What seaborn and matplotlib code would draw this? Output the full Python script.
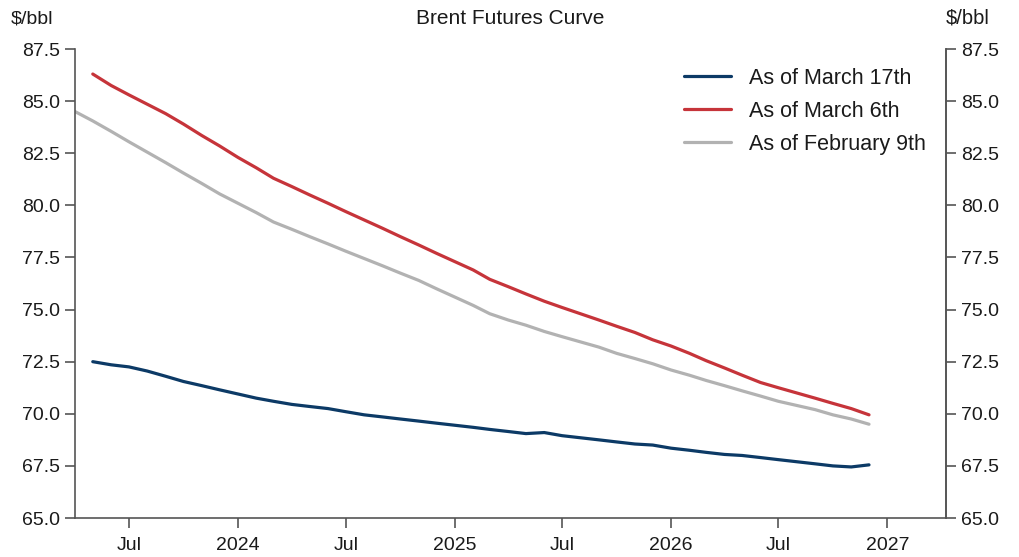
import matplotlib
matplotlib.use("Agg")
import matplotlib.pyplot as plt
import matplotlib.dates as mdates
import numpy as np
import pandas as pd
import seaborn as sns

# Brent futures settlement curves, monthly contracts ($/bbl)
start_mar17 = "2023-05-01"
mar17 = [72.5, 72.35, 72.25, 72.05, 71.8, 71.55, 71.35, 71.15, 70.95, 70.75,
         70.6, 70.45, 70.35, 70.25, 70.1, 69.95, 69.85, 69.75, 69.65, 69.55,
         69.45, 69.35, 69.25, 69.15, 69.05, 69.1, 68.95, 68.85, 68.75, 68.65,
         68.55, 68.5, 68.35, 68.25, 68.15, 68.05, 68.0, 67.9, 67.8, 67.7,
         67.6, 67.5, 67.45, 67.55]

start_mar6 = "2023-05-01"
mar6 = [86.3, 85.75, 85.3, 84.85, 84.4, 83.9, 83.35, 82.85, 82.3, 81.8,
        81.3, 80.9, 80.5, 80.1, 79.7, 79.3, 78.9, 78.5, 78.1, 77.7,
        77.3, 76.9, 76.45, 76.1, 75.75, 75.4, 75.1, 74.8, 74.5, 74.2,
        73.9, 73.55, 73.25, 72.9, 72.55, 72.2, 71.85, 71.5, 71.25, 71.0,
        70.75, 70.5, 70.25, 69.95]

start_feb9 = "2023-04-01"
feb9 = [84.5, 84.05, 83.55, 83.05, 82.55, 82.05, 81.55, 81.05, 80.55, 80.1,
        79.65, 79.2, 78.85, 78.5, 78.15, 77.8, 77.45, 77.1, 76.75, 76.4,
        76.0, 75.6, 75.2, 74.8, 74.5, 74.25, 73.95, 73.7, 73.45, 73.2,
        72.9, 72.65, 72.4, 72.1, 71.85, 71.6, 71.35, 71.1, 70.85, 70.6,
        70.4, 70.2, 69.95, 69.75, 69.5]

series_names = ["As of March 17th", "As of March 6th", "As of February 9th"]
series_colors = ["#0c3a66", "#c6343a", "#b2b2b2"]
y_ticks = [65.0, 67.5, 70.0, 72.5, 75.0, 77.5, 80.0, 82.5, 85.0, 87.5]

frames = []
for name, start, vals in zip(series_names,
                             [start_mar17, start_mar6, start_feb9],
                             [mar17, mar6, feb9]):
    frames.append(pd.DataFrame({
        "date": pd.date_range(start, periods=len(vals), freq="MS"),
        "price": vals,
        "curve": name,
    }))
df = pd.concat(frames, ignore_index=True)

sns.set_style("white")
plt.rcParams["font.family"] = ["Liberation Sans", "DejaVu Sans"]

fig = plt.figure(figsize=(10.19, 5.57), dpi=100)
ax = fig.add_axes([0.0736, 0.070, 0.8548, 0.842])

sns.lineplot(data=df, x="date", y="price", hue="curve",
             hue_order=series_names, palette=series_colors,
             linewidth=2.3, ax=ax, legend=True)

ax.set_xlim(pd.Timestamp("2023-04-01"), pd.Timestamp("2027-04-10"))
ax.set_ylim(65.0, 87.5)
ax.set_yticks(y_ticks)
ax.yaxis.set_major_formatter(matplotlib.ticker.FormatStrFormatter("%.1f"))

ax.xaxis.set_major_locator(mdates.MonthLocator(bymonth=[1, 7]))


def fmt_date(x, pos=None):
    d = mdates.num2date(x)
    return str(d.year) if d.month == 1 else "Jul"


ax.xaxis.set_major_formatter(matplotlib.ticker.FuncFormatter(fmt_date))
ax.set_xlabel("")
ax.set_ylabel("")

spine_col = "#555555"
text_col = "#1a1a1a"
for side in ["left", "right", "bottom"]:
    ax.spines[side].set_visible(True)
    ax.spines[side].set_color(spine_col)
    ax.spines[side].set_linewidth(1.2)
ax.spines["top"].set_visible(False)

ax.tick_params(axis="both", direction="out", length=7, width=1.2,
               color=spine_col, labelsize=14, labelcolor=text_col,
               left=True, bottom=True)
ax.tick_params(axis="x", pad=7)
ax.tick_params(axis="y", pad=4)

# secondary axis mirrors the price scale on the right
ax2 = ax.twinx()
ax2.set_ylim(ax.get_ylim())
ax2.set_yticks(y_ticks)
ax2.yaxis.set_major_formatter(matplotlib.ticker.FormatStrFormatter("%.1f"))
ax2.tick_params(axis="y", direction="out", length=7, width=1.2,
                color=spine_col, labelsize=14, labelcolor=text_col, right=True, pad=4)
for side in ["left", "top", "bottom"]:
    ax2.spines[side].set_visible(False)
ax2.spines["right"].set_color(spine_col)
ax2.spines["right"].set_linewidth(1.2)

ax.text(0.5, 1.045, "Brent Futures Curve", transform=ax.transAxes,
        ha="center", va="bottom", fontsize=15, color=text_col)
ax.text(-0.049, 1.045, "$/bbl", transform=ax.transAxes,
        ha="center", va="bottom", fontsize=14, color=text_col)
ax.text(1.0, 1.045, "$/bbl", transform=ax.transAxes,
        ha="left", va="bottom", fontsize=14.5, color=text_col)

leg = ax.legend(loc="upper right", bbox_to_anchor=(0.987, 0.978), frameon=False,
                fontsize=15.5, handlelength=2.2, handletextpad=0.85,
                labelspacing=0.55, borderaxespad=0.0)
for t in leg.get_texts():
    t.set_color(text_col)

fig.savefig("out.png", dpi=100)
